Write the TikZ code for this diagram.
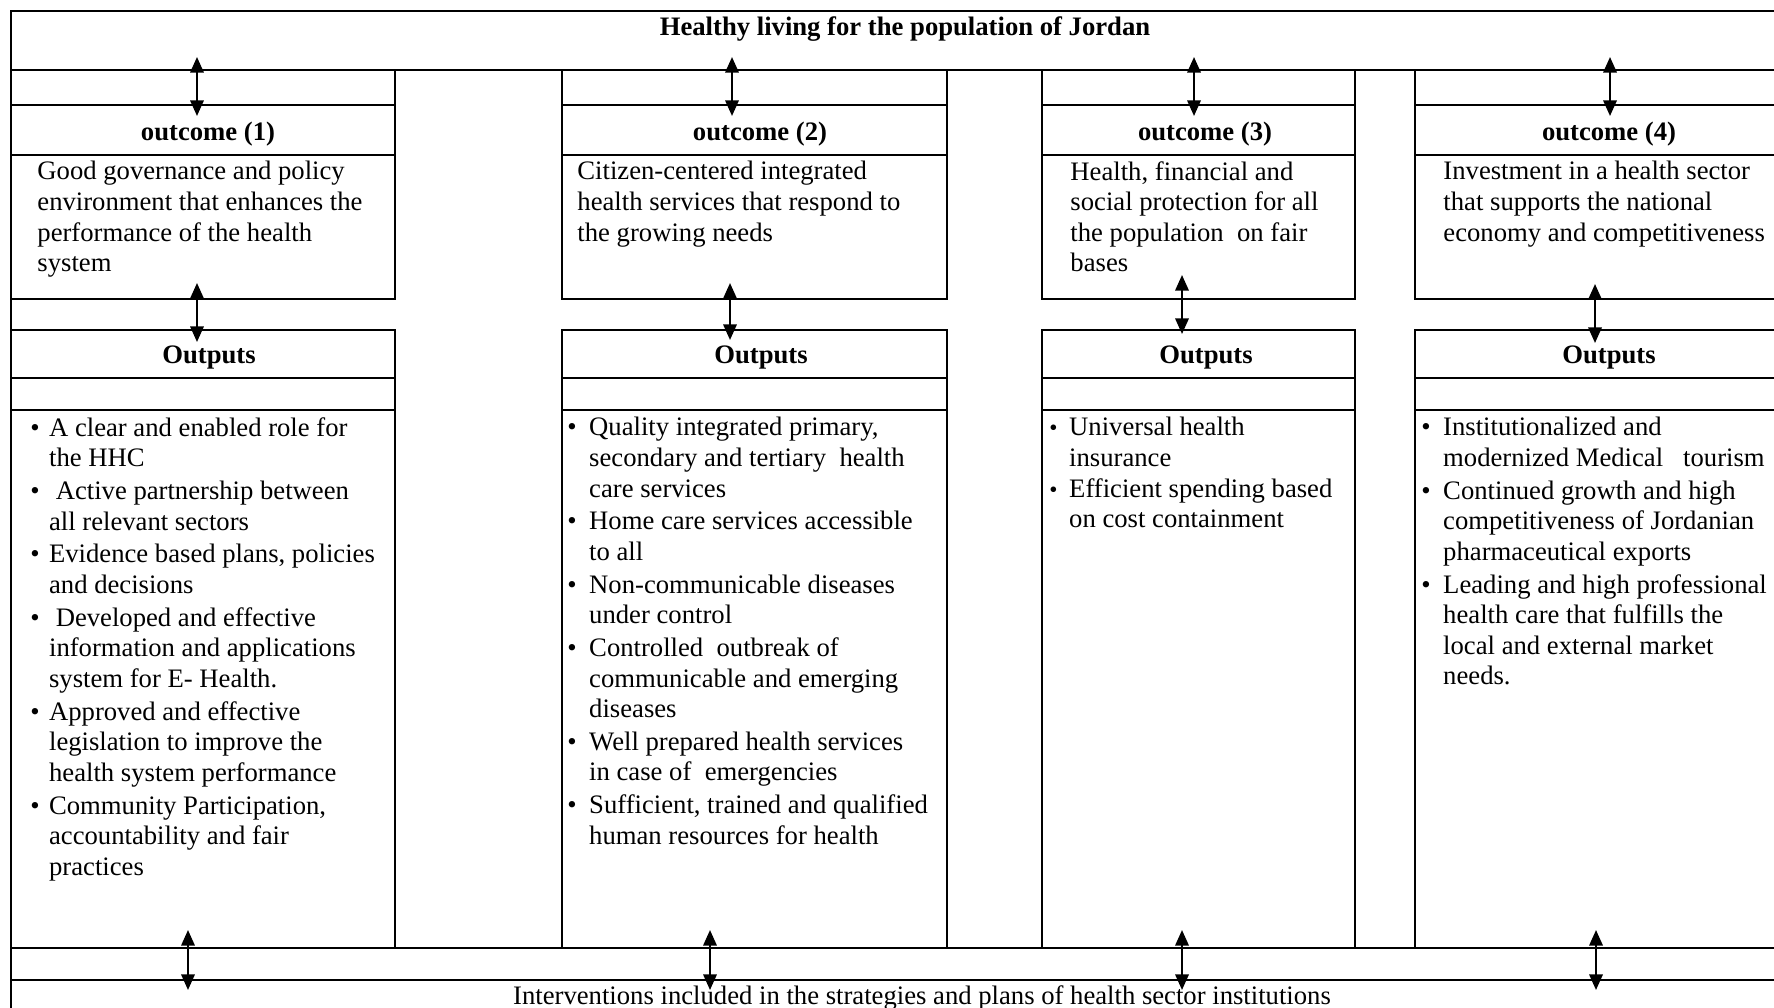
\documentclass[tikz,border=0pt]{standalone}
\usepackage{fontspec}
\setmainfont{Liberation Serif}
\usetikzlibrary{arrows.meta}

\newcommand{\itm}[1][9.8pt]{\makebox[#1][l]{\textbullet}}
\newcommand{\ind}[1][9.8pt]{\hspace*{#1}}
\newcommand{\smallitm}{\makebox[8.9pt][l]{\fontsize{10.5pt}{11pt}\selectfont\textbullet}}

\begin{document}
\begin{tikzpicture}[x=0.45pt, y=-0.45pt,
    rule/.style={line width=0.9pt},
    link/.style={line width=1pt, {Triangle[length=7pt,width=6pt]}-{Triangle[length=7pt,width=6pt]}},
    txt/.style={inner sep=0pt, align=left, anchor=north west, font=\fontsize{12pt}{13.75pt}\selectfont},
    head/.style={inner sep=0pt, font=\fontsize{12pt}{13.75pt}\selectfont\bfseries}]
    \useasboundingbox (0,0) rectangle (1774,1008);
    \clip (0,0) rectangle (1774,1008);

    % Frame and bands:
    \draw[rule] (11,1010) -- (11,11) -- (1780,11);
    \draw[rule] (11,70) -- (1780,70);
    \draw[rule] (11,948) -- (1780,948);
    \draw[rule] (11,980) -- (1780,980);

    % Column boxes:
    \foreach \xa/\xb in {11/395, 562/947, 1042/1355, 1415/1800} {
        \draw[rule] (\xa,70) rectangle (\xb,299);
        \draw[rule] (\xa,105) -- (\xb,105);
        \draw[rule] (\xa,155) -- (\xb,155);
        \draw[rule] (\xa,330) rectangle (\xb,948);
        \draw[rule] (\xa,378) -- (\xb,378);
        \draw[rule] (\xa,410) -- (\xb,410);
    }

    % Titles:
    \node[head] (title) at (905,29) {Healthy living for the population of Jordan};
    \node[head] (out1) at (208,134) {outcome (1)};
    \node[head] (out2) at (760,134) {outcome (2)};
    \node[head] (out3) at (1205,134) {outcome (3)};
    \node[head] (out4) at (1609,134) {outcome (4)};
    \node[head] (res1) at (209,358) {Outputs};
    \node[head] (res2) at (761,358) {Outputs};
    \node[head] (res3) at (1206,358) {Outputs};
    \node[head] (res4) at (1609,358) {Outputs};

    % Outcome texts:
    \node[txt] (goal1) at (37,161) {Good governance and policy\\environment that enhances the\\performance of the health\\system};
    \node[txt] (goal2) at (577,161) {Citizen-centered integrated\\health services that respond to\\the growing needs};
    \node[txt] (goal3) at (1070,161) {Health, financial and\\social protection for all\\the population \ on fair\\bases};
    \node[txt] (goal4) at (1443,161) {Investment in a health sector\\that supports the national\\economy and competitiveness};

    % Output lists:
    \node[txt] (list1) at (30,417) {\itm[8.4pt]A clear and enabled role for\\\ind[8.4pt]the HHC\\[1pt]
        \itm[8.4pt]\ Active partnership between\\\ind[8.4pt]all relevant sectors\\[1pt]
        \itm[8.4pt]Evidence based plans, policies\\\ind[8.4pt]and decisions\\[1pt]
        \itm[8.4pt]\ Developed and effective\\\ind[8.4pt]information and applications\\\ind[8.4pt]system for E- Health.\\[1pt]
        \itm[8.4pt]Approved and effective\\\ind[8.4pt]legislation to improve the\\\ind[8.4pt]health system performance\\[1pt]
        \itm[8.4pt]Community Participation,\\\ind[8.4pt]accountability and fair\\\ind[8.4pt]practices};
    \node[txt] (list2) at (567,417) {\itm Quality integrated primary,\\\ind secondary and tertiary \ health\\\ind care services\\[1pt]
        \itm Home care services accessible\\\ind to all\\[1pt]
        \itm Non-communicable diseases\\\ind under control\\[1pt]
        \itm Controlled \ outbreak of\\\ind communicable and emerging\\\ind diseases\\[1pt]
        \itm Well prepared health services\\\ind in case of \ emergencies\\[1pt]
        \itm Sufficient, trained and qualified\\\ind human resources for health};
    \node[txt] (list3) at (1049,417) {\smallitm Universal health\\\ind[8.9pt]insurance\\
        \smallitm Efficient spending based\\\ind[8.9pt]on cost containment};
    \node[txt] (list4) at (1421,417) {\itm Institutionalized and\\\ind modernized Medical \ \ tourism\\[1pt]
        \itm Continued growth and high\\\ind competitiveness of Jordanian\\\ind pharmaceutical exports\\[1pt]
        \itm Leading and high professional\\\ind health care that fulfills the\\\ind local and external market\\\ind needs.};

    \node[inner sep=0pt, font=\fontsize{12pt}{13.75pt}\selectfont] (interv) at (922,998) {Interventions included in the strategies and plans of health sector institutions};

    % Arrows:
    \foreach \n/\x/\ya/\yb in {ta/197/57/116, tb/732/57/116, tc/1194/57/116, td/1610/57/116,
                                ma/197/283/342, mb/730/283/340, mc/1182/275/334, md/1595/284/343,
                                ba/188/930/990, bb/710/930/990, bc/1182/930/990, bd/1596/930/990} {
        \coordinate (\n1) at (\x,\ya);
        \coordinate (\n2) at (\x,\yb);
        \draw[link] (\n1) -- (\n2);
    }
\end{tikzpicture}
\end{document}
